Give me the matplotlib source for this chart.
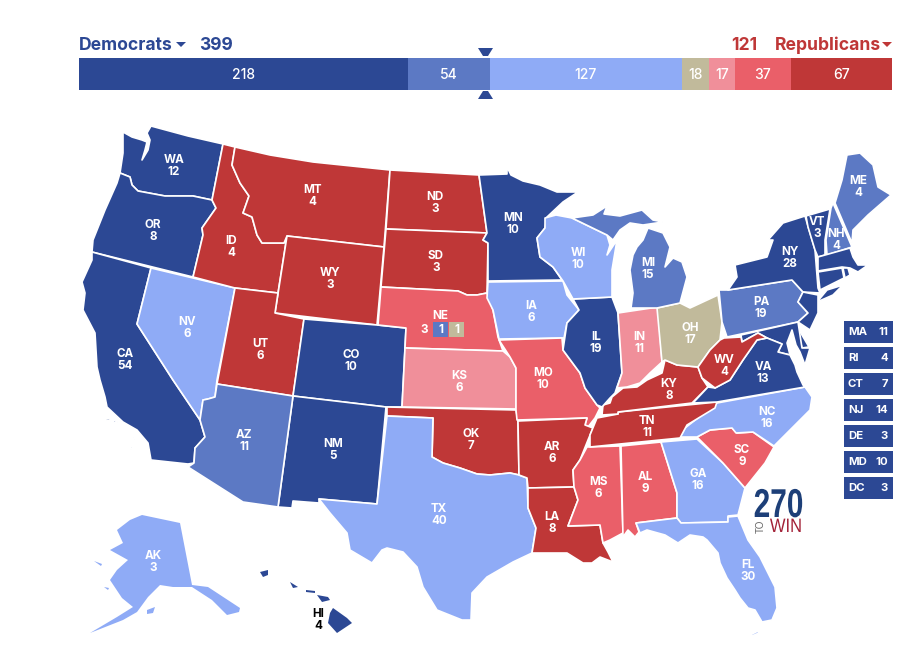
import matplotlib
matplotlib.use("Agg")
import matplotlib.pyplot as plt
from matplotlib.patches import Polygon, Rectangle
from matplotlib.patheffects import AbstractPathEffect
from matplotlib.transforms import Affine2D

plt.rcParams['font.family'] = ['Inter', 'DejaVu Sans']

# seat bar
bar_values = [218, 54, 127, 18, 17, 37, 67]
bar_keys = ['safe_d', 'likely_d', 'lean_d', 'tossup', 'lean_r', 'likely_r', 'safe_r']
dem_total = 399
rep_total = 121

colors = {'safe_d': '#2C4894', 'likely_d': '#5C79C4', 'lean_d': '#8FABF6', 'tossup': '#C1BA9B',
          'lean_r': '#F08F9A', 'likely_r': '#EA5F69', 'safe_r': '#BF3737'}

# electoral votes and rating of each state
votes = {'WA': 12, 'OR': 8, 'CA': 54, 'NV': 6, 'ID': 4, 'MT': 4, 'WY': 3, 'UT': 6, 'CO': 10, 'AZ': 11, 'NM': 5,
         'ND': 3, 'SD': 3, 'NE': 3, 'KS': 6, 'OK': 7, 'TX': 40, 'MN': 10, 'IA': 6, 'MO': 10, 'AR': 6, 'LA': 8,
         'WI': 10, 'IL': 19, 'IN': 11, 'MI': 15, 'OH': 17, 'KY': 8, 'TN': 11, 'MS': 6, 'AL': 9, 'GA': 16, 'FL': 30,
         'SC': 9, 'NC': 16, 'VA': 13, 'WV': 4, 'PA': 19, 'NY': 28, 'VT': 3, 'NH': 4, 'ME': 4, 'AK': 3, 'HI': 4}
safe_d = ['WA', 'OR', 'CA', 'CO', 'NM', 'MN', 'IL', 'NY', 'VT', 'MA', 'CT', 'RI', 'NJ', 'DE', 'MD', 'VA', 'HI']
likely_d = ['AZ', 'MI', 'PA', 'ME', 'NH']
lean_d = ['NV', 'IA', 'WI', 'TX', 'NC', 'GA', 'FL', 'AK']
tossup = ['OH']
lean_r = ['KS', 'IN']
likely_r = ['NE', 'MO', 'MS', 'AL', 'SC']
safe_r = ['MT', 'ID', 'WY', 'UT', 'ND', 'SD', 'OK', 'AR', 'LA', 'KY', 'TN', 'WV']

small_names = ['MA', 'RI', 'CT', 'NJ', 'DE', 'MD', 'DC']
small_votes = [11, 4, 7, 14, 3, 10, 3]

# state outlines, in picture pixels
shapes = {
    'WA': [[(123, 132), (132, 137), (142, 140), (147, 142), (145, 150), (142, 160), (148, 150), (150, 140), (147, 133),
            (151, 126), (188, 136), (223, 144), (212, 200), (193, 196), (165, 196), (138, 191), (132, 185), (130, 177),
            (120, 173), (123, 153)]],
    'OR': [[(120, 173), (130, 177), (132, 185), (138, 191), (165, 196), (193, 196), (212, 200), (216, 208), (202, 228),
            (203, 235), (193, 277), (92, 252), (93, 240), (105, 210), (117, 183)]],
    'CA': [[(92, 252), (151, 268), (137, 324), (173, 380), (200, 420), (205, 437), (195, 448), (194, 463), (188, 464),
            (151, 460), (148, 443), (137, 430), (123, 422), (107, 407), (105, 397), (100, 380), (97, 367), (95, 333),
            (83, 310), (85, 293), (82, 282), (92, 260)],
           [(105, 418), (110, 419), (110, 421), (106, 420)], [(113, 420), (118, 422), (114, 423)],
           [(132, 437), (135, 439), (134, 441)], [(130, 446), (132, 447), (131, 450)]],
    'NV': [[(151, 268), (235, 288), (217, 380), (215, 397), (208, 399), (203, 400), (200, 420), (173, 380), (137, 324)]],
    'ID': [[(223, 144), (235, 147), (232, 165), (240, 183), (249, 196), (243, 213), (252, 217), (257, 235), (262, 243),
            (284, 243), (287, 236), (278, 293), (235, 288), (193, 277), (203, 235), (202, 228), (216, 208), (212, 200)]],
    'MT': [[(235, 147), (270, 155), (313, 162), (390, 170), (384, 247), (287, 236), (284, 243), (262, 243), (257, 235),
            (252, 217), (243, 213), (249, 196), (240, 183), (232, 165)]],
    'WY': [[(287, 236), (384, 247), (377, 325), (275, 313)]],
    'UT': [[(235, 288), (278, 293), (275, 313), (304, 319), (293, 396), (217, 384)]],
    'CO': [[(304, 319), (377, 325), (406, 328), (402, 407), (386, 407), (293, 396)]],
    'NM': [[(293, 396), (386, 407), (377, 504), (319, 499), (319, 503), (293, 501), (292, 508), (278, 507)]],
    'AZ': [[(217, 384), (293, 396), (278, 507), (243, 502), (188, 467), (194, 463), (195, 448), (205, 437), (200, 420),
            (203, 400), (208, 399), (215, 397)]],
    'ND': [[(390, 170), (479, 175), (487, 233), (386, 229)]],
    'SD': [[(386, 229), (487, 233), (483, 240), (488, 243), (487, 293), (477, 295), (467, 295), (458, 291), (381, 287)]],
    'NE': [[(381, 287), (458, 291), (467, 295), (477, 295), (487, 293), (493, 310), (498, 337), (503, 351), (405, 348),
            (406, 328), (378, 325)]],
    'KS': [[(405, 348), (503, 351), (510, 357), (516, 368), (516, 409), (402, 407)]],
    'OK': [[(387, 407), (516, 410), (518, 421), (519, 475), (510, 473), (490, 475), (477, 474), (460, 468), (443, 463),
            (432, 457), (433, 418), (387, 416)]],
    'TX': [[(387, 416), (433, 418), (432, 457), (443, 463), (460, 468), (477, 474), (490, 475), (510, 473), (519, 475),
            (527, 478), (528, 508), (536, 528), (532, 553), (513, 562), (487, 577), (472, 593), (471, 620), (462, 620),
            (437, 610), (423, 587), (417, 567), (403, 552), (387, 548), (382, 550), (372, 563), (350, 550), (347, 533),
            (330, 513), (319, 499), (377, 504)]],
    'MN': [[(479, 175), (507, 174), (507, 167), (511, 175), (523, 181), (540, 185), (557, 192), (578, 192), (563, 202),
            (547, 217), (545, 228), (537, 238), (540, 257), (553, 267), (562, 280), (488, 281), (488, 243), (483, 240),
            (487, 233)]],
    'IA': [[(488, 282), (563, 281), (567, 295), (579, 310), (567, 323), (564, 338), (499, 339), (493, 310), (487, 298)]],
    'MO': [[(499, 340), (562, 338), (563, 350), (580, 373), (585, 388), (597, 405), (600, 408), (595, 418), (588, 427),
            (585, 425), (587, 418), (517, 420), (516, 410), (516, 368), (510, 357)]],
    'AR': [[(518, 421), (587, 418), (585, 425), (593, 428), (588, 440), (580, 460), (573, 470), (574, 487), (528, 488),
            (527, 478), (519, 475)]],
    'LA': [[(528, 488), (574, 487), (578, 500), (568, 526), (600, 525), (603, 543), (608, 552), (613, 562), (600, 557),
            (592, 563), (583, 563), (567, 553), (547, 553), (532, 553), (536, 528), (528, 508)]],
    'MS': [[(587, 447), (620, 446), (623, 533), (610, 540), (603, 543), (600, 525), (568, 526), (578, 500), (574, 487),
            (573, 470), (580, 460)]],
    'AL': [[(621, 446), (661, 442), (677, 493), (677, 518), (636, 523), (639, 532), (635, 537), (628, 530), (623, 537)]],
    'GA': [[(661, 442), (697, 439), (723, 463), (745, 488), (738, 515), (728, 516), (728, 522), (681, 523), (677, 518),
            (677, 493)]],
    'FL': [[(636, 523), (677, 518), (681, 523), (728, 522), (728, 517), (738, 516), (748, 540), (760, 557), (775, 587),
            (777, 608), (772, 620), (762, 622), (755, 610), (748, 608), (740, 598), (735, 590), (727, 578), (720, 563),
            (718, 553), (707, 540), (703, 537), (690, 535), (678, 543), (665, 535), (647, 530), (640, 533)],
           [(750, 635), (758, 631), (759, 633), (752, 636)]],
    'SC': [[(697, 437), (710, 430), (732, 428), (737, 433), (753, 432), (774, 447), (765, 463), (745, 488), (723, 463)]],
    'NC': [[(680, 437), (685, 428), (717, 403), (805, 387), (812, 397), (810, 410), (797, 423), (787, 433), (774, 446),
            (753, 432), (736, 433), (732, 428), (710, 430), (697, 437)]],
    'TN': [[(597, 418), (618, 414), (618, 412), (717, 402), (715, 408), (687, 425), (680, 438), (590, 447), (590, 435)]],
    'KY': [[(602, 415), (603, 405), (610, 403), (612, 397), (623, 388), (637, 387), (647, 380), (662, 373), (665, 360),
            (677, 365), (698, 367), (702, 378), (708, 387), (692, 403), (618, 412), (618, 414)]],
    'IL': [[(573, 299), (612, 297), (618, 313), (622, 373), (617, 387), (615, 393), (610, 398), (602, 407), (597, 405),
            (585, 388), (580, 373), (563, 350), (567, 323), (579, 310)]],
    'WI': [[(545, 218), (556, 215), (572, 218), (607, 235), (610, 245), (607, 255), (617, 240), (612, 270), (612, 297),
            (573, 299), (563, 281), (553, 267), (540, 257), (537, 238), (545, 228)]],
    'IN': [[(618, 313), (658, 307), (662, 362), (650, 373), (640, 383), (627, 387), (617, 388), (622, 373)]],
    'OH': [[(657, 308), (680, 303), (690, 308), (718, 295), (722, 322), (720, 340), (710, 350), (698, 367), (677, 365),
            (665, 360), (662, 362)]],
    'MI': [[(633, 255), (630, 270), (633, 293), (631, 308), (657, 308), (680, 303), (687, 277), (682, 262), (673, 258),
            (665, 267), (670, 247), (663, 233), (648, 228), (643, 240), (637, 247)],
           [(572, 218), (593, 215), (607, 206), (604, 214), (620, 216), (642, 210), (653, 220), (663, 222), (643, 225),
            (630, 223), (620, 230), (613, 240), (607, 235)]],
    'PA': [[(719, 290), (728, 290), (792, 280), (803, 292), (798, 302), (808, 313), (798, 322), (727, 337), (722, 322)]],
    'NY': [[(728, 290), (737, 277), (735, 265), (767, 257), (773, 240), (768, 240), (783, 223), (805, 216), (815, 250),
            (818, 288), (820, 293), (803, 292), (792, 280)],
           [(817, 302), (827, 290), (843, 285), (833, 295)]],
    'VT': [[(806, 216), (830, 209), (825, 240), (825, 255), (818, 257), (815, 250), (808, 227)]],
    'NH': [[(831, 208), (833, 203), (852, 247), (827, 255), (826, 240)]],
    'ME': [[(835, 203), (842, 180), (847, 155), (860, 153), (873, 165), (878, 187), (891, 195), (868, 215), (853, 230),
            (852, 243)]],
    'MA': [[(818, 257), (850, 248), (853, 257), (858, 265), (868, 265), (858, 272), (850, 268), (842, 267), (818, 271)]],
    'CT': [[(818, 272), (842, 268), (844, 278), (820, 290)]],
    'RI': [[(843, 268), (848, 268), (850, 275), (845, 278)]],
    'NJ': [[(803, 292), (818, 295), (818, 313), (810, 330), (798, 322), (808, 313), (798, 302)]],
    'DE': [[(795, 323), (809, 347), (802, 348)]],
    'MD': [[(741, 335), (798, 322), (802, 348), (810, 348), (805, 365), (800, 352), (796, 345), (792, 330), (787, 343),
            (790, 355), (778, 352), (782, 344), (767, 338), (758, 333), (742, 342)]],
    'VA': [[(693, 403), (708, 387), (715, 388), (730, 380), (743, 360), (757, 340), (767, 338), (782, 344), (778, 352),
            (790, 355), (795, 365), (797, 372), (803, 385), (805, 387), (717, 402)]],
    'WV': [[(724, 338), (741, 337), (742, 342), (758, 333), (767, 338), (757, 340), (743, 360), (730, 380), (715, 388),
            (702, 378), (698, 367), (710, 350), (720, 340)]],
    'AK': [[(117, 530), (130, 520), (142, 515), (180, 523), (192, 585), (208, 587), (240, 608), (239, 612), (227, 615),
            (212, 600), (192, 587), (173, 587), (160, 585), (148, 597), (137, 612), (123, 620), (90, 633), (117, 617),
            (133, 607), (122, 598), (110, 580), (117, 570), (128, 560), (110, 550), (123, 543)],
           [(147, 610), (155, 607), (153, 613), (147, 614)], [(104, 587), (109, 588), (108, 590)],
           [(94, 561), (102, 564), (101, 566)]],
    'HI': [[(333, 608), (347, 618), (352, 623), (337, 633), (328, 623), (330, 613)],
           [(317, 595), (328, 597), (330, 600), (322, 602)],
           [(290, 582), (298, 587), (293, 588)],
           [(260, 572), (268, 570), (268, 575), (263, 577)],
           [(306, 590), (315, 591), (315, 593), (306, 592)]],
}

# label centres in picture pixels
label_pos = {'WA': (174, 166), 'OR': (153, 231), 'CA': (125, 360), 'NV': (187, 328), 'ID': (231, 247), 'MT': (312, 196),
             'WY': (330, 279), 'UT': (260, 350), 'CO': (351, 361), 'AZ': (244, 441), 'NM': (333, 450), 'ND': (435, 203),
             'SD': (436, 262), 'KS': (459, 382), 'OK': (471, 440), 'TX': (439, 515), 'MN': (513, 224), 'IA': (531, 312),
             'MO': (543, 379), 'AR': (552, 453), 'LA': (552, 523), 'WI': (578, 259), 'IL': (596, 343), 'IN': (639, 343),
             'MI': (648, 269), 'OH': (690, 334), 'KY': (669, 390), 'TN': (647, 427), 'MS': (598, 488), 'AL': (645, 483),
             'GA': (698, 480), 'FL': (748, 571), 'SC': (742, 456), 'NC': (767, 418), 'VA': (763, 373), 'WV': (724, 366),
             'PA': (761, 308), 'NY': (790, 258), 'VT': (817, 228), 'NH': (836, 240), 'ME': (858, 187), 'AK': (153, 562),
             'HI': (318, 620)}


# the logo type is condensed and no narrow font is installed, so squeeze the glyphs
class Squeeze(AbstractPathEffect):
    def __init__(self, cx, sx):
        super().__init__()
        self.cx = cx
        self.sx = sx

    def draw_path(self, renderer, gc, tpath, affine, rgbFace=None):
        squeeze = Affine2D().translate(-self.cx, 0).scale(self.sx, 1).translate(self.cx, 0)
        renderer.draw_path(gc, tpath, affine + squeeze, rgbFace)


rating = {}
for key, group in zip(bar_keys, [safe_d, likely_d, lean_d, tossup, lean_r, likely_r, safe_r]):
    for s in group:
        rating[s] = key

fig = plt.figure(figsize=(9.18, 6.57), dpi=100)
ax = fig.add_axes([0, 0, 1, 1])
ax.set_xlim(0, 918)
ax.set_ylim(657, 0)
ax.axis('off')

# the states
for state, parts in shapes.items():
    for part in parts:
        ax.add_patch(Polygon(part, closed=True, facecolor=colors[rating[state]], edgecolor='white',
                             linewidth=1.2 if state not in ('HI', 'AK') else 0, joinstyle='round'))

for state, (x, y) in label_pos.items():
    c = 'black' if state == 'HI' else 'white'
    ax.text(x, y - 6, state, color=c, ha='center', va='center', fontsize=8.4, fontweight='bold')
    ax.text(x, y + 6, str(votes[state]), color=c, ha='center', va='center', fontsize=8.4, fontweight='bold')

# nebraska splits
ax.text(440, 316, 'NE', color='white', ha='center', va='center', fontsize=8.4, fontweight='bold')
ax.text(424, 330, '3', color='white', ha='center', va='center', fontsize=8.4, fontweight='bold')
ax.add_patch(Rectangle((433, 322), 15, 15, facecolor=colors['likely_d']))
ax.add_patch(Rectangle((449, 322), 15, 15, facecolor=colors['tossup']))
ax.text(440.5, 330, '1', color='white', ha='center', va='center', fontsize=8.4, fontweight='bold')
ax.text(456.5, 330, '1', color='white', ha='center', va='center', fontsize=8.4, fontweight='bold')

# small state boxes
for i, (name, v) in enumerate(zip(small_names, small_votes)):
    y = 321 + i * 26
    ax.add_patch(Rectangle((844, y), 49, 22, facecolor=colors['safe_d']))
    ax.text(848, y + 11, name, color='white', ha='left', va='center', fontsize=8.2, fontweight='bold')
    ax.text(888, y + 11, str(v), color='white', ha='right', va='center', fontsize=8.2, fontweight='bold')

# header text
ax.text(79, 45, 'Democrats', color=colors['safe_d'], ha='left', va='center', fontsize=12.6, fontweight='bold')
ax.text(199, 45, str(dem_total), color=colors['safe_d'], ha='left', va='center', fontsize=12.6, fontweight='bold')
ax.text(757, 45, str(rep_total), color=colors['safe_r'], ha='right', va='center', fontsize=12.6, fontweight='bold')
ax.text(775, 45, 'Republicans', color=colors['safe_r'], ha='left', va='center', fontsize=12.6, fontweight='bold')
ax.add_patch(Polygon([(176, 42), (186, 42), (181, 47)], facecolor=colors['safe_d']))
ax.add_patch(Polygon([(882, 42), (892, 42), (887, 47)], facecolor=colors['safe_r']))

# 270 markers
ax.add_patch(Polygon([(478, 48), (493, 48), (488, 56), (483, 56)], facecolor=colors['safe_d']))
ax.add_patch(Polygon([(478, 99), (493, 99), (488, 91), (483, 91)], facecolor=colors['safe_d']))

# logo
t = ax.text(778.5, 517, '270', color='#1D3F78', ha='center', va='baseline', fontsize=29, fontweight='bold',
            family=['Liberation Sans', 'DejaVu Sans'])
t.set_path_effects([Squeeze(778.5, 0.74)])
t = ax.text(786, 532, 'WIN', color='#A32238', ha='center', va='baseline', fontsize=14, family=['Liberation Sans', 'DejaVu Sans'])
t.set_path_effects([Squeeze(786, 0.85)])
ax.text(761, 526, 'TO', color='#666666', ha='center', va='center', fontsize=7, rotation=90,
        family=['Liberation Sans', 'DejaVu Sans'])

# seat bar on its own axes
bar_ax = fig.add_axes([79 / 918, 1 - 90 / 657, 813 / 918, 32 / 657])
bar_ax.set_xlim(0, sum(bar_values))
bar_ax.set_ylim(0, 1)
bar_ax.axis('off')
left = 0
for v, key in zip(bar_values, bar_keys):
    bar_ax.barh(0.5, v, left=left, height=1, color=colors[key])
    bar_ax.text(left + v / 2, 0.48, str(v), color='white', ha='center', va='center', fontsize=10, fontweight='medium')
    left += v

plt.savefig('out.png', dpi=100)
